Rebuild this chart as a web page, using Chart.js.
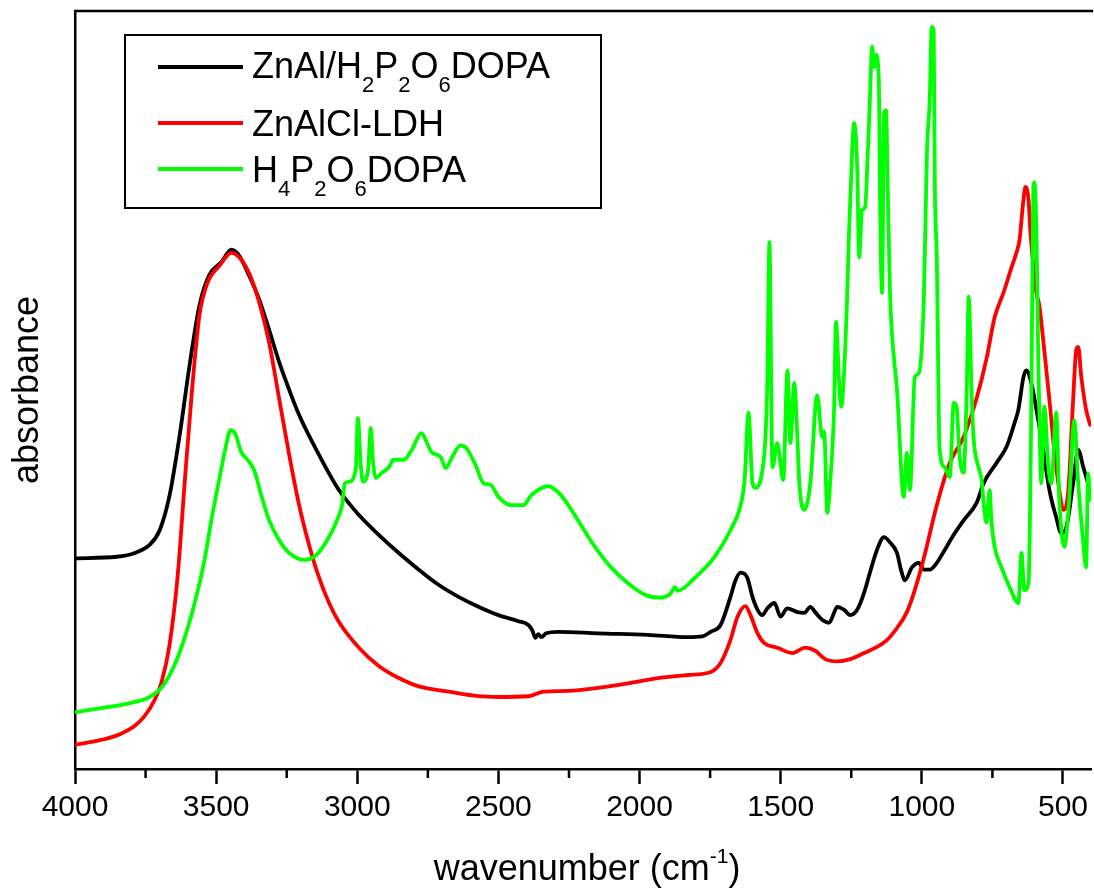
<!DOCTYPE html>
<html>
<head>
<meta charset="utf-8">
<script src="https://cdn.jsdelivr.net/npm/chart.js@4.4.1/dist/chart.umd.min.js"></script>
<style>
  html, body { margin: 0; padding: 0; background: #ffffff; }
  #wrap { width: 1094px; height: 892px; }
</style>
</head>
<body>
<div id="wrap"><canvas id="c" width="1094" height="892"></canvas></div>
<script>
// ---------- data (wavenumber in cm-1, absorbance in arbitrary units) ----------
const seriesNames = ['ZnAl/H2P2O6DOPA', 'ZnAlCl-LDH', 'H4P2O6DOPA'];
const seriesColors = ['#000000', '#ff0000', '#00ff00'];

const majorTicks = [4000, 3500, 3000, 2500, 2000, 1500, 1000, 500];
const minorTicks = [3750, 3250, 2750, 2250, 1750, 1250, 750];

const blackX = [4000,3852,3788,3735,3700,3665,3629,3594,3559,3524,3481,3446,3418,3382,3347,3312,3277,3241,3206,3135,3065,2994,2924,2853,2782,2712,2641,2571,2500,2429,2394,2380,2369,2359,2348,2331,2288,2147,1971,1829,1777,1748,1713,1678,1660,1642,1618,1600,1582,1565,1547,1522,1501,1477,1441,1416,1395,1378,1353,1328,1311,1300,1275,1254,1229,1205,1184,1159,1134,1113,1088,1074,1060,1035,1011,993,972,947,919,887,852,806,781,735,700,672,658,640,630,612,594,570,548,524,506,488,464,446,428,404];
const blackY = [27.8,28.0,28.5,29.6,31.5,36.1,44.1,53.3,61.2,65.2,66.9,68.5,67.7,65.0,61.9,57.9,53.7,50.0,46.7,41.4,36.8,33.5,30.9,28.5,26.3,24.3,22.7,21.4,20.3,19.5,19.0,18.3,17.3,17.8,17.4,17.9,18.1,17.9,17.7,17.4,17.5,18.1,19.0,22.7,24.9,25.9,25.2,22.7,21.0,20.3,21.2,21.9,20.1,21.2,20.7,20.6,21.4,20.7,19.7,19.3,20.6,21.4,21.0,20.3,21.0,23.2,25.9,28.9,30.6,29.9,28.5,26.3,24.9,26.6,27.2,26.3,26.3,27.2,28.9,30.9,32.8,35.1,37.7,40.4,42.5,45.6,47.4,51.7,52.6,50.9,47.4,42.1,36.8,33.2,31.1,31.9,37.7,42.1,39.8,36.8];

const redX = [4000,3912,3841,3788,3753,3718,3693,3665,3636,3612,3587,3559,3531,3488,3446,3418,3382,3347,3312,3277,3241,3206,3171,3135,3100,3065,2994,2924,2853,2782,2676,2571,2500,2394,2341,2253,2147,2041,1935,1829,1748,1713,1678,1653,1625,1607,1582,1558,1512,1459,1413,1378,1342,1300,1254,1205,1159,1124,1088,1053,1025,993,947,901,852,806,771,742,711,682,665,654,640,633,622,615,594,584,570,548,531,513,499,481,464,453,446,435,418,404];
const redY = [3.2,3.8,4.6,5.7,7.0,9.1,11.5,16.4,25.6,37.5,49.3,59.9,64.1,66.4,68.1,67.5,65.3,61.5,56.2,48.9,41.4,34.8,29.6,25.2,21.9,19.4,16.0,13.6,12.0,10.9,10.2,9.6,9.5,9.6,10.2,10.3,10.7,11.3,12.0,12.4,12.8,14.0,17.0,20.1,21.5,20.3,17.9,16.6,16.0,15.3,16.0,15.6,14.5,14.2,14.5,15.3,16.1,17.0,18.6,20.7,23.6,27.8,34.8,40.4,43.8,48.9,54.1,59.6,62.8,66.2,68.1,69.8,75.1,76.8,75.1,70.7,62.8,61.2,56.6,48.7,42.1,36.8,34.2,36.8,48.7,55.3,55.7,51.7,47.4,45.4];

const greenX = [4000,3912,3806,3735,3682,3629,3576,3541,3517,3488,3467,3449,3432,3411,3389,3365,3340,3312,3277,3241,3188,3146,3100,3072,3054,3044,3029,3005,2998,2987,2980,2962,2952,2945,2934,2913,2888,2871,2835,2807,2772,2754,2737,2705,2687,2666,2634,2613,2581,2553,2528,2500,2454,2412,2384,2324,2278,2218,2158,2101,2041,1981,1925,1889,1875,1865,1805,1734,1678,1642,1628,1614,1600,1589,1565,1554,1547,1540,1529,1512,1501,1491,1476,1466,1452,1441,1434,1417,1395,1371,1353,1346,1335,1325,1311,1304,1293,1286,1275,1265,1258,1247,1240,1229,1222,1212,1201,1191,1184,1176,1169,1162,1152,1148,1141,1134,1127,1120,1113,1106,1088,1064,1053,1042,1025,1011,993,982,972,965,958,954,947,937,919,901,887,877,866,852,841,834,824,817,799,788,781,771,760,753,742,718,689,658,647,637,622,612,605,601,594,587,584,577,566,552,541,524,513,495,478,460,446,428,418,411,404];
const greenY = [7.5,8.0,8.7,9.5,11.3,15.4,21.9,27.6,32.8,38.4,42.3,44.7,44.2,41.8,40.8,39.4,36.1,32.8,30.2,28.5,27.6,28.2,30.6,32.8,34.8,37.7,37.9,39.7,46.3,39.8,37.9,39.4,45.0,40.8,38.4,39.1,39.8,40.8,40.8,42.1,44.3,43.1,41.8,41.2,39.7,41.0,42.7,42.3,40.1,37.7,37.5,35.9,34.8,34.8,36.1,37.3,36.1,32.8,29.3,26.6,24.5,23.0,22.6,23.2,24.0,23.5,25.2,28.0,31.5,34.8,38.1,47.0,37.7,37.1,39.4,43.8,51.7,69.5,39.8,43.0,40.4,38.1,52.6,43.0,50.9,43.8,37.7,34.2,37.7,49.3,43.8,44.5,33.8,37.7,47.4,59.0,50.9,47.8,52.6,61.9,70.7,81.3,85.2,79.4,67.5,73.7,74.1,81.7,88.3,95.3,92.6,94.2,90.5,75.1,62.8,86.5,86.9,75.1,63.2,57.5,50.0,35.9,41.7,36.8,51.7,52.2,61.9,81.3,88.3,97.9,97.5,77.3,67.5,42.1,39.8,38.5,48.3,47.8,41.2,39.1,50.0,62.3,50.0,43.8,39.8,38.1,35.1,32.5,36.8,32.5,29.3,26.6,24.0,21.9,28.5,23.6,24.5,48.7,76.8,77.4,70.7,53.0,47.4,37.7,47.8,39.8,37.7,47.0,35.5,29.3,35.5,46.0,37.7,29.8,26.6,39.0,35.5];

const xAxisTitle = ['wavenumber (cm', '-1', ')'];
const yAxisTitle = 'absorbance';

// ---------- chart ----------
const FONT = "'Liberation Sans', Arial, Helvetica, sans-serif";
Chart.defaults.font.family = FONT;
Chart.defaults.color = '#000';

function toPoints(xs, ys) { return xs.map((x, i) => ({ x: x, y: ys[i] })); }
const seriesX = [blackX, redX, greenX];
const seriesY = [blackY, redY, greenY];

const datasets = seriesNames.map((name, i) => ({
  label: name,
  data: toPoints(seriesX[i], seriesY[i]),
  borderColor: seriesColors[i],
  backgroundColor: seriesColors[i],
  borderWidth: 3.8,
  pointRadius: 0,
  cubicInterpolationMode: 'monotone',
  borderJoinStyle: 'round',
  borderCapStyle: 'round',
  fill: false,
  order: 3 - i
}));

function drawRichText(ctx, text, x, baseline, size, subSize, subDrop) {
  // digits are drawn as subscripts
  let cx = x;
  const parts = text.match(/(\d+|\D+)/g) || [];
  parts.forEach(p => {
    const isSub = /^\d+$/.test(p);
    ctx.font = (isSub ? subSize : size) + 'px ' + FONT;
    ctx.fillText(p, cx, isSub ? baseline + subDrop : baseline);
    cx += ctx.measureText(p).width;
  });
}

const decorPlugin = {
  id: 'decor',
  afterDraw(chart) {
    const ctx = chart.ctx;
    const { left, top, right, bottom } = chart.chartArea;
    const xs = chart.scales.x;
    ctx.save();
    ctx.strokeStyle = '#000';
    ctx.fillStyle = '#000';
    // top frame line
    ctx.lineWidth = 2.5;
    ctx.beginPath();
    ctx.moveTo(left - 1, top);
    ctx.lineTo(right + 2, top);
    ctx.stroke();
    // minor ticks
    ctx.lineWidth = 2.5;
    minorTicks.forEach(v => {
      const px = xs.getPixelForValue(v);
      ctx.beginPath();
      ctx.moveTo(px, bottom);
      ctx.lineTo(px, bottom + 9);
      ctx.stroke();
    });
    // legend box
    ctx.lineWidth = 2;
    ctx.strokeRect(125, 35, 476, 173);
    const lineYs = [67, 123, 169];
    const textBase = [78, 136, 182];
    ctx.textBaseline = 'alphabetic';
    ctx.textAlign = 'left';
    seriesNames.forEach((name, i) => {
      ctx.strokeStyle = seriesColors[i];
      ctx.lineWidth = 4;
      ctx.beginPath();
      ctx.moveTo(158, lineYs[i]);
      ctx.lineTo(243, lineYs[i]);
      ctx.stroke();
      ctx.fillStyle = '#000';
      drawRichText(ctx, name, 252, textBase[i], 36, 22, 14);
    });
    // x axis title with superscript
    const mainSize = 36, supSize = 21;
    ctx.font = mainSize + 'px ' + FONT;
    const w0 = ctx.measureText(xAxisTitle[0]).width;
    const w2 = ctx.measureText(xAxisTitle[2]).width;
    ctx.font = supSize + 'px ' + FONT;
    const w1 = ctx.measureText(xAxisTitle[1]).width;
    const total = w0 + w1 + w2;
    let sx = 587 - total / 2;
    const base = 880;
    ctx.font = mainSize + 'px ' + FONT;
    ctx.fillText(xAxisTitle[0], sx, base);
    sx += w0;
    ctx.font = supSize + 'px ' + FONT;
    ctx.fillText(xAxisTitle[1], sx, base - 17);
    sx += w1;
    ctx.font = mainSize + 'px ' + FONT;
    ctx.fillText(xAxisTitle[2], sx, base);
    ctx.restore();
  }
};

new Chart(document.getElementById('c'), {
  type: 'line',
  data: { datasets },
  plugins: [decorPlugin],
  options: {
    responsive: false,
    animation: false,
    devicePixelRatio: 1,
    layout: { autoPadding: false, padding: { top: 11, left: 0, right: 0, bottom: 0 } },
    plugins: { legend: { display: false }, tooltip: { enabled: false }, title: { display: false } },
    scales: {
      x: {
        type: 'linear',
        reverse: true,
        min: 400,
        max: 4000,
        afterFit(scale) { scale.height = 123; },
        afterBuildTicks(scale) { scale.ticks = majorTicks.map(v => ({ value: v })); },
        ticks: {
          font: { size: 30 },
          color: '#000',
          padding: 6,
          maxRotation: 0,
          autoSkip: false,
          callback: (v) => String(v)
        },
        grid: {
          drawOnChartArea: false,
          drawTicks: true,
          tickLength: 15,
          tickWidth: 2.5,
          tickColor: '#000'
        },
        border: { display: true, color: '#000', width: 2.5 },
        title: { display: false }
      },
      y: {
        type: 'linear',
        min: 0,
        max: 100,
        afterFit(scale) { scale.width = 75; },
        ticks: { display: false },
        grid: { display: false, drawTicks: false },
        border: { display: true, color: '#000', width: 2.5 },
        title: {
          display: true,
          text: yAxisTitle,
          font: { size: 36 },
          color: '#000',
          padding: { top: 6, bottom: 0 }
        }
      }
    }
  }
});
</script>
</body>
</html>
